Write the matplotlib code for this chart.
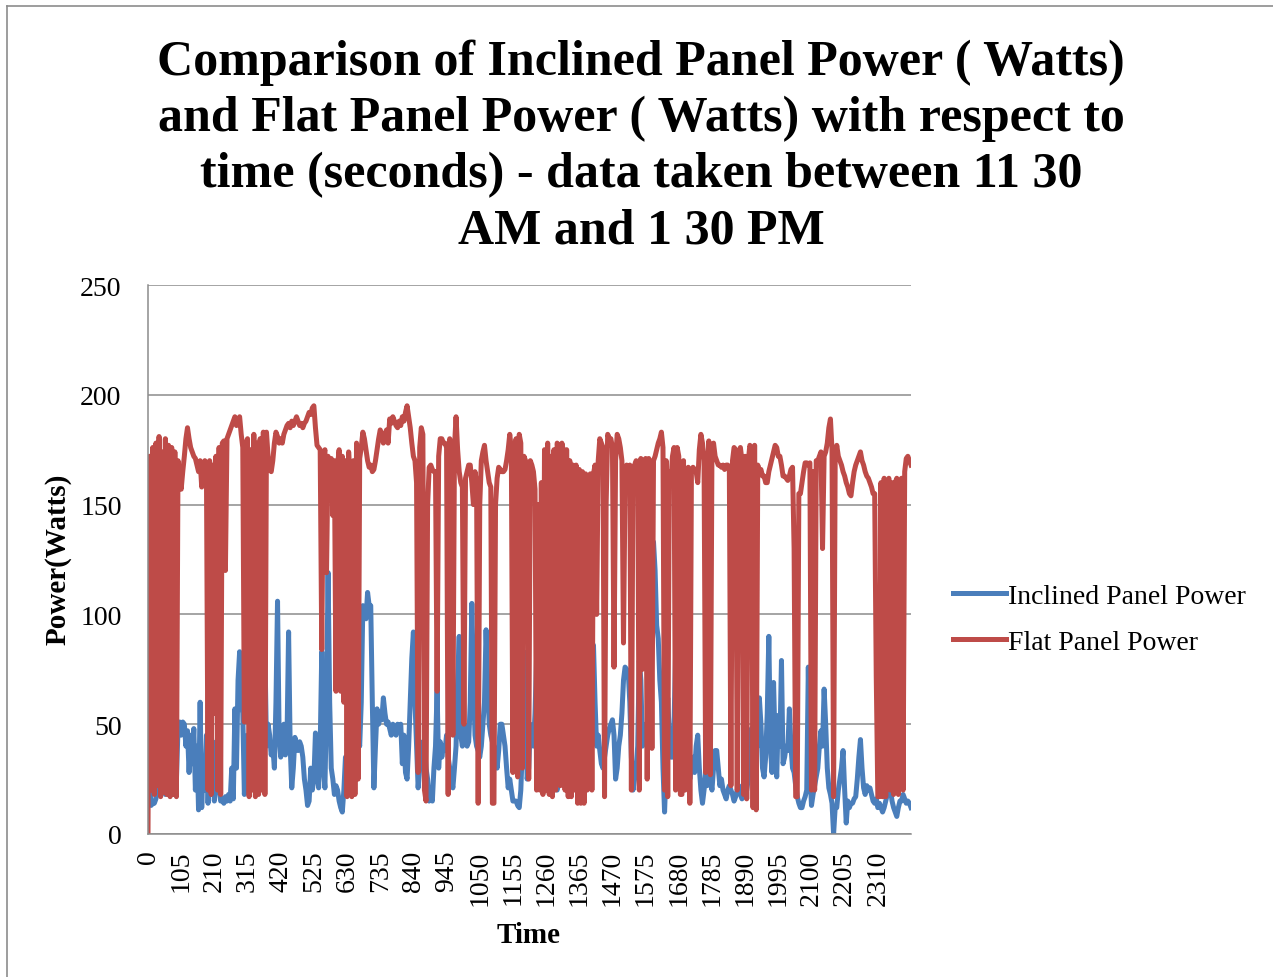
import matplotlib
matplotlib.use("Agg")
import matplotlib.pyplot as plt
from matplotlib.lines import Line2D

plt.rcParams['font.family'] = ['Liberation Serif', 'DejaVu Serif']

# time axis in seconds, one sample every 5 s
time_s = list(range(0, 2420, 5))

# Inclined Panel Power (W), one row = 105 s
inclined_w = [
    20, 25, 13, 14, 14, 16, 20, 48, 30, 25, 35, 18, 40, 22, 45, 30, 20, 38, 25, 48, 51,
    45, 51, 50, 40, 47, 28, 45, 32, 48, 20, 40, 11, 60, 12, 35, 20, 45, 14, 35, 18, 42,
    15, 30, 44, 20, 15, 16, 14, 17, 15, 18, 15, 30, 16, 57, 30, 70, 83, 60, 55, 18, 30,
    45, 25, 60, 95, 40, 25, 35, 20, 50, 45, 50, 84, 40, 50, 45, 36, 40, 30, 60, 106, 45,
    35, 40, 50, 36, 44, 92, 40, 21, 30, 44, 40, 38, 42, 40, 35, 25, 20, 13, 15, 30, 20,
    25, 46, 30, 21, 40, 83, 30, 21, 60, 119, 60, 30, 25, 18, 22, 20, 15, 12, 10, 20, 35,
    30, 28, 25, 30, 35, 40, 38, 45, 40, 60, 104, 100, 98, 110, 104, 104, 60, 21, 40, 57, 50,
    55, 52, 62, 55, 50, 51, 48, 45, 50, 46, 45, 50, 48, 50, 32, 45, 28, 25, 40, 60, 80,
    92, 60, 40, 21, 30, 35, 42, 40, 30, 25, 15, 18, 15, 30, 40, 65, 30, 42, 35, 40, 38,
    45, 35, 30, 25, 21, 30, 40, 70, 90, 45, 40, 50, 48, 40, 42, 60, 105, 70, 45, 40, 38,
    35, 40, 50, 60, 93, 70, 50, 45, 42, 40, 35, 30, 38, 50, 50, 45, 40, 30, 21, 25, 20,
    15, 15, 15, 13, 12, 20, 40, 83, 60, 25, 30, 50, 45, 40, 55, 81, 50, 40, 30, 35, 28,
    25, 30, 28, 22, 25, 20, 22, 20, 25, 28, 30, 30, 35, 28, 30, 28, 32, 35, 38, 40, 42,
    45, 40, 42, 48, 45, 40, 38, 50, 70, 86, 60, 40, 45, 38, 32, 30, 35, 40, 45, 48, 50,
    52, 45, 25, 30, 40, 45, 55, 70, 76, 75, 74, 60, 35, 20, 25, 30, 40, 79, 70, 40, 45,
    50, 45, 60, 80, 110, 133, 120, 95, 89, 70, 60, 30, 10, 30, 62, 45, 35, 35, 50, 83, 60,
    40, 30, 25, 30, 28, 25, 30, 25, 30, 35, 28, 40, 45, 30, 20, 14, 20, 28, 22, 32, 25,
    20, 30, 38, 38, 30, 22, 25, 20, 18, 16, 20, 22, 20, 18, 15, 17, 20, 22, 18, 16, 17,
    17, 20, 25, 35, 48, 40, 50, 45, 40, 62, 50, 30, 26, 35, 55, 90, 40, 28, 69, 40, 26,
    54, 40, 79, 32, 35, 40, 38, 57, 40, 30, 28, 22, 17, 14, 12, 12, 15, 17, 20, 76, 30,
    13, 18, 22, 26, 30, 40, 47, 40, 66, 50, 30, 21, 18, 14, 0, 12, 12, 20, 25, 30, 38,
    20, 5, 15, 12, 14, 14, 16, 17, 25, 35, 43, 30, 21, 18, 22, 20, 21, 18, 15, 14, 16,
    12, 14, 12, 10, 12, 15, 18, 20, 20, 15, 12, 10, 8, 12, 15, 15, 18, 16, 14, 15, 14,
    12,
]

# Flat Panel Power (W), one row = 105 s
flat_w = [
    0, 172, 20, 176, 18, 178, 22, 181, 17, 174, 19, 180, 18, 177, 17, 176, 18, 174, 17, 170, 160,
    157, 165, 172, 180, 185, 180, 176, 174, 172, 171, 168, 165, 170, 158, 168, 170, 165, 20, 170, 18, 168,
    55, 172, 20, 176, 18, 178, 179, 120, 180, 182, 184, 186, 188, 190, 186, 188, 190, 182, 176, 51, 178,
    180, 17, 175, 20, 182, 17, 178, 18, 180, 20, 183, 18, 183, 172, 166, 165, 170, 178, 183, 181, 178,
    180, 178, 182, 184, 186, 187, 185, 188, 186, 188, 190, 188, 186, 187, 185, 187, 188, 190, 192, 191, 194,
    195, 185, 177, 176, 175, 84, 172, 175, 119, 172, 160, 171, 145, 170, 65, 168, 175, 65, 172, 60, 170,
    17, 174, 160, 17, 170, 18, 178, 25, 171, 176, 183, 180, 175, 170, 167, 168, 165, 166, 170, 175, 180,
    184, 182, 178, 182, 184, 178, 189, 187, 190, 188, 186, 185, 188, 186, 190, 188, 192, 195, 190, 185, 178,
    172, 170, 160, 28, 176, 185, 182, 20, 15, 150, 167, 168, 166, 165, 165, 65, 172, 180, 180, 178, 178,
    176, 18, 180, 172, 45, 176, 190, 175, 165, 160, 158, 50, 162, 165, 168, 168, 160, 150, 165, 160, 14,
    150, 170, 174, 177, 170, 165, 160, 158, 14, 14, 150, 162, 167, 166, 165, 165, 166, 170, 175, 182, 175,
    28, 170, 180, 26, 182, 178, 30, 172, 170, 168, 25, 170, 168, 165, 157, 20, 150, 20, 160, 18, 175,
    20, 178, 18, 172, 17, 175, 20, 178, 176, 22, 178, 174, 20, 175, 17, 170, 17, 168, 20, 168, 14,
    166, 14, 165, 14, 164, 20, 163, 164, 20, 164, 168, 100, 170, 180, 178, 176, 17, 150, 182, 180, 180,
    176, 76, 170, 182, 180, 176, 170, 87, 160, 168, 166, 168, 20, 165, 168, 170, 168, 20, 171, 75, 170,
    171, 25, 171, 168, 39, 170, 172, 175, 178, 180, 183, 176, 20, 170, 17, 165, 160, 172, 176, 20, 176,
    172, 18, 18, 170, 20, 165, 167, 14, 165, 167, 166, 165, 160, 175, 182, 178, 170, 28, 165, 179, 27,
    176, 178, 172, 170, 168, 168, 167, 168, 166, 168, 168, 167, 22, 170, 176, 175, 20, 174, 176, 170, 18,
    172, 16, 170, 177, 175, 12, 177, 11, 168, 165, 166, 163, 163, 160, 160, 165, 168, 171, 174, 177, 176,
    172, 172, 168, 163, 163, 162, 161, 163, 166, 167, 130, 17, 17, 155, 155, 160, 165, 169, 169, 168, 169,
    20, 165, 20, 170, 170, 172, 174, 130, 172, 174, 178, 185, 189, 175, 17, 170, 177, 172, 170, 168, 165,
    163, 160, 158, 155, 154, 160, 165, 168, 170, 172, 174, 170, 168, 165, 163, 162, 160, 158, 155, 155, 72,
    17, 17, 160, 17, 162, 17, 158, 162, 20, 160, 18, 160, 162, 18, 160, 162, 20, 165, 171, 172, 170,
    168,
]

tick_times = list(range(0, 2311, 105))
series_names = ['Inclined Panel Power', 'Flat Panel Power']
colors = ['#4A7EBB', '#BE4B48']

fig = plt.figure(figsize=(12.73, 9.78), dpi=100)
ax = fig.add_axes([148 / 1273, 1 - 835 / 978, (911 - 148) / 1273, (835 - 286) / 978])

ax.plot(time_s, inclined_w, color=colors[0], lw=3.6, label=series_names[0], solid_joinstyle='round')
ax.plot(time_s, flat_w, color=colors[1], lw=3.6, label=series_names[1], solid_joinstyle='round')

ax.set_xlim(0, 2415)
ax.set_ylim(0, 250)
ax.set_yticks(range(0, 251, 50))
ax.set_xticks(tick_times)
ax.set_xticklabels([str(t) for t in tick_times], rotation=90, fontsize=20)
ax.tick_params(axis='y', labelsize=20, length=0, pad=19)
ax.tick_params(axis='x', length=0, pad=11)
ax.grid(axis='y', color='#8c8c8c', lw=1.1)
ax.set_axisbelow(True)
for side in ['top', 'right']:
    ax.spines[side].set_visible(False)
for side in ['left', 'bottom']:
    ax.spines[side].set_color('#8c8c8c')
    ax.spines[side].set_linewidth(1.1)

fig.text(58 / 1273, 1 - 559 / 978, 'Power(Watts)', rotation=90, fontsize=21,
         fontweight='bold', ha='center', va='center')
fig.text(529 / 1273, 1 - 936 / 978, 'Time', fontsize=21, fontweight='bold',
         ha='center', va='center')

fig.text(641 / 1273, 1 - 147 / 978,
         'Comparison of Inclined Panel Power ( Watts)\n'
         'and Flat Panel Power ( Watts) with respect to\n'
         'time (seconds) - data taken between 11 30\n'
         'AM and 1 30 PM',
         fontsize=36, fontweight='bold', ha='center', va='center', linespacing=1.28)

ax.legend(loc='center left', bbox_to_anchor=(939 / 1273, 1 - 620 / 978),
          bbox_transform=fig.transFigure, frameon=False, fontsize=20,
          handlelength=1.9, handletextpad=0.1, borderpad=0, labelspacing=0.75)

# chart area border
fig.add_artist(Line2D([7 / 1273, 1], [1 - 7 / 978, 1 - 7 / 978], color='#8c8c8c', lw=1.2))
fig.add_artist(Line2D([7 / 1273, 7 / 1273], [0, 1 - 7 / 978], color='#8c8c8c', lw=1.2))

fig.savefig('out.png', dpi=100)
